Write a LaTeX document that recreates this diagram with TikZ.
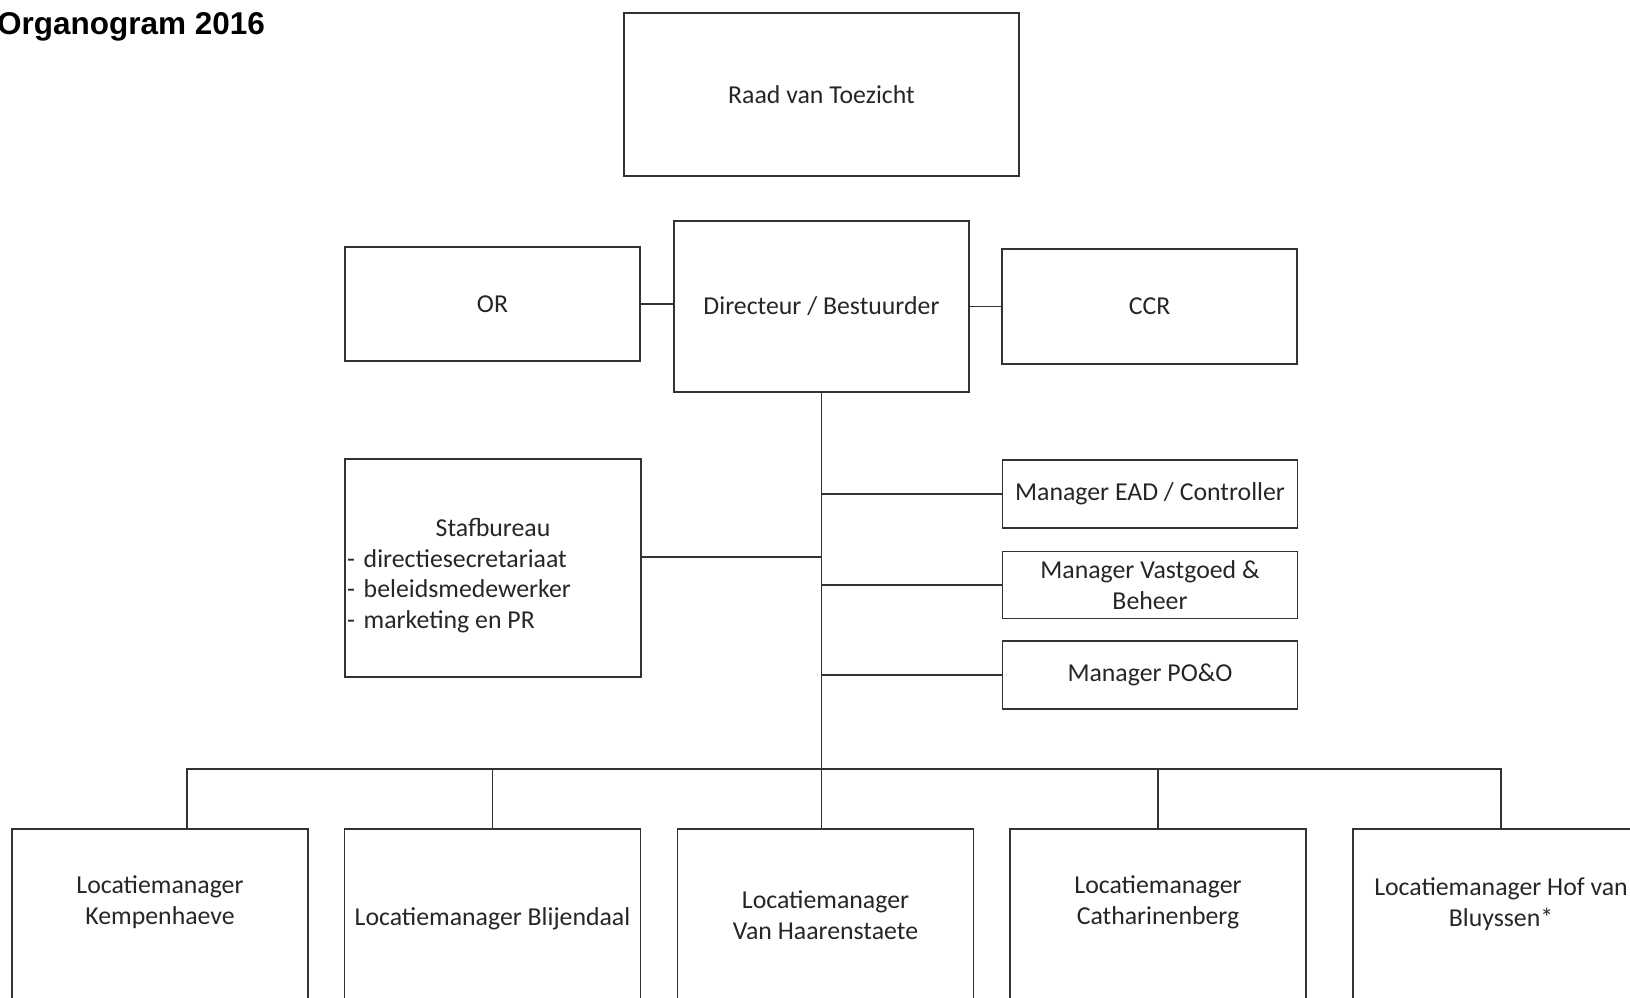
\documentclass[tikz,border=0pt]{standalone}
\usepackage{fontspec}
\setmainfont{Carlito}
\newfontfamily\titlefont{Liberation Sans}

\begin{document}
\begin{tikzpicture}[x=1pt,y=-1pt,
  box/.style={draw=black!80, line width=1.8pt, rectangle, minimum width=295pt, align=center, text=black!85, font=\fontsize{25.8}{30.5}\selectfont},
  lmbox/.style={box, minimum width=296pt, anchor=north, inner ysep=#1, text depth=160pt},
  conn/.style={draw=black!80, line width=1.8pt}]
\useasboundingbox (0,0) rectangle (1630,998);
\node[anchor=base west, inner sep=0pt, font=\titlefont\bfseries\fontsize{31.5}{36}\selectfont] (title) at (-3,35) {Organogram 2016};
\node[box, minimum width=395pt, minimum height=163pt] (rvt) at (821.5,94.5) {Raad van Toezicht};
\node[box, minimum height=171pt] (dir) at (821.5,306.5) {Directeur / Bestuurder};
\node[box, minimum height=114pt] (or) at (492.5,304) {OR};
\node[box, minimum height=115pt] (ccr) at (1149.5,306.5) {CCR};
\node[box, minimum width=296pt, minimum height=218pt, text width=292pt, inner xsep=2pt, align=left] (staf) at (493,568) {\spaceskip=0pt\xspaceskip=0pt\makebox[292pt]{\rule{0pt}{33pt}Stafbureau}\\-\hspace{3pt} directiesecretariaat\\-\hspace{3pt} beleidsmedewerker\\-\hspace{3pt} marketing en PR};
\node[box, minimum height=68pt] (ead) at (1150,494) {Manager EAD / Controller};
\node[box, minimum height=67pt] (vg) at (1150,585) {Manager Vastgoed \&\\Beheer};
\node[box, minimum height=68pt] (poo) at (1150,675) {Manager PO\&O};
\node[lmbox=47pt] (kemp) at (160,828) {Locatiemanager\\Kempenhaeve};
\node[lmbox=79pt] (blij) at (492.5,828) {Locatiemanager Blijendaal};
\node[lmbox=62pt] (haar) at (825.5,828) {Locatiemanager\\Van Haarenstaete};
\node[lmbox=47pt] (cath) at (1158,828) {Locatiemanager\\Catharinenberg};
\node[lmbox=49pt] (hof) at (1501,828) {Locatiemanager Hof van\\Bluyssen*};
\coordinate (bus) at (821,769);
\path[conn] (or.east) -- (or.east -| dir.west);
\path[conn] (dir.east) -- (dir.east -| ccr.west);
\path[conn] (dir.south) -- (dir.south |- haar.north);
\path[conn] ([yshift=11pt]staf.east) -- ([yshift=11pt]staf.east -| dir.south);
\path[conn] (ead.west -| dir.south) -- (ead.west);
\path[conn] (vg.west -| dir.south) -- (vg.west);
\path[conn] (poo.west -| dir.south) -- (poo.west);
\path[conn] ([xshift=27pt]kemp.north) |- (bus) -| (hof.north);
\path[conn] (blij.north) -- (blij.north |- bus);
\path[conn] (cath.north) -- (cath.north |- bus);
\path[conn, line width=2.8pt] (blij.north |- bus) -- ++(53,0);
\end{tikzpicture}
\end{document}
